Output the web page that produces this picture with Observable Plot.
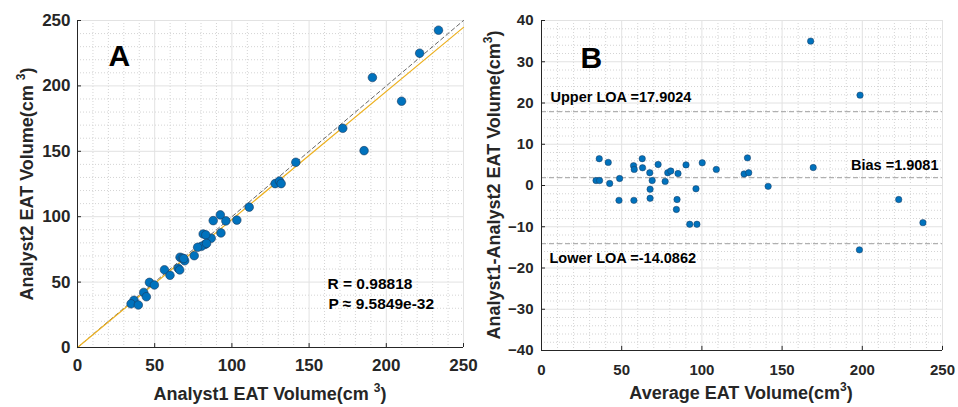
<!DOCTYPE html>
<html><head><meta charset="utf-8">
<script src="https://cdn.jsdelivr.net/npm/d3@7"></script>
<script src="https://cdn.jsdelivr.net/npm/@observablehq/plot@0.6"></script>
<style>
body{margin:0;background:#fff;}
#wrap{display:flex;width:958px;height:407px;overflow:hidden;}
#wrap svg{flex:none;}
</style></head><body><div id="wrap"></div>
<script>
// Panel A: Analyst1 vs Analyst2 volumes
const analyst1 = [233.8,221.6,191.0,209.9,171.8,185.6,141.4,128.0,130.8,131.9,111.2,92.5,87.9,96.1,103.2,92.9,86.6,81.4,83.1,82.6,80.3,77.8,75.6,66.4,67.9,69.4,65.2,66.2,56.3,59.9,46.6,49.8,42.9,44.6,36.6,34.7,39.4,68.8,83.6];
const analyst2 = [242.6,225.0,206.4,188.3,167.6,150.5,141.6,125.3,127.3,125.3,107.3,101.4,97.0,96.8,97.4,87.6,83.5,86.8,86.1,78.8,77.4,76.6,70.2,69.0,68.3,66.3,60.6,59.3,59.4,55.2,49.8,47.8,42.1,38.8,36.1,33.4,32.5,68.0,79.6];
const fitSlope = 0.979;
const fitIntercept = 0.0;
const corrR = "0.98818";
const pValue = "9.5849e-32";
const ticksA = [0,50,100,150,200,250];

// Panel B: Bland-Altman
const baAverage = [167.8,198.6,36.0,41.6,62.8,57.4,57.8,63.0,72.7,67.5,78.7,80.6,85.1,90.1,100.2,109.0,128.4,126.3,129.2,141.3,169.4,34.0,36.2,42.5,48.7,48.3,57.6,67.7,69.0,67.7,77.1,84.5,84.1,92.4,96.9,96.3,222.7,237.8,198.2];
const baDifference = [35.0,21.9,6.5,5.6,6.5,4.8,3.9,4.3,5.1,3.1,3.1,3.5,2.9,5.0,5.5,3.9,6.7,2.8,3.1,-0.2,4.35,1.2,1.2,0.5,1.7,-3.6,-3.6,-0.9,1.2,-3.1,1.0,-3.4,-5.8,-9.4,-9.4,-0.8,-3.4,-9.0,-15.6];
const biasValue = 1.9081;
const upperLOA = 17.9024;
const lowerLOA = -14.0862;
const ticksBx = [0,50,100,150,200,250];
const ticksBy = [-40,-30,-20,-10,0,10,20,30,40];

const font = "'Liberation Sans', Arial, Helvetica, sans-serif";
const ink = "#262626";
const dotFill = "#0072BD";
const dotStroke = "#1d3b5e";
const majorGrid = "#e2e2e2";
const minorGrid = "#d4d4d4";

function addTitle(svg, x, y, rotate, main, sup, supSpace) {
  const t = d3.select(svg).append("text")
    .attr("font-family", font).attr("font-weight", "bold").attr("font-size", 18)
    .attr("fill", ink).attr("text-anchor", "middle")
    .attr("transform", `translate(${x},${y})` + (rotate ? " rotate(-90)" : ""));
  t.append("tspan").text(main + (supSpace ? " " : ""));
  t.append("tspan").attr("font-size", 12).attr("dy", -8).text(sup);
  t.append("tspan").attr("dy", 8).text(")");
}

// ---------- Panel A ----------
const ptsA = analyst1.map((x, i) => ({x, y: analyst2[i]}));
const fitA = [0, 250].map(x => ({x, y: fitIntercept + fitSlope * x}));
const idA = [0, 250].map(v => ({x: v, y: v}));
const minorA = d3.range(0, 251, 10).filter(v => v % 50 !== 0);

const plotA = Plot.plot({
  width: 479, height: 407,
  marginLeft: 77, marginRight: 16, marginTop: 20, marginBottom: 60,
  style: {fontFamily: font, fontSize: "17px", fontWeight: "bold", color: ink, background: "#fff", overflow: "visible"},
  x: {domain: [0, 250], ticks: ticksA, tickSize: 0, tickPadding: 11, label: null},
  y: {domain: [0, 250], ticks: ticksA, tickSize: 0, tickPadding: 7, label: null},
  marks: [
    Plot.ruleX(minorA, {stroke: minorGrid, strokeDasharray: "1,2"}),
    Plot.ruleY(minorA, {stroke: minorGrid, strokeDasharray: "1,2"}),
    Plot.ruleX(ticksA.slice(1), {stroke: majorGrid}),
    Plot.ruleY(ticksA.slice(1), {stroke: majorGrid}),
    Plot.line(idA, {x: "x", y: "y", stroke: "#555", strokeWidth: 0.9, strokeDasharray: "4,3"}),
    Plot.line(fitA, {x: "x", y: "y", stroke: "#EDB120", strokeWidth: 1.2}),
    Plot.dot(ptsA, {x: "x", y: "y", r: 4.3, fill: dotFill, stroke: dotStroke, strokeWidth: 0.6}),
    Plot.ruleX(ticksA, {y1: 0, y2: 3, stroke: ink}),
    Plot.ruleY(ticksA, {x1: 0, x2: 2.6, stroke: ink}),
    Plot.ruleX([0], {stroke: ink, strokeWidth: 1}),
    Plot.ruleY([0], {stroke: ink, strokeWidth: 1}),
    Plot.text(["A"], {frameAnchor: "top-left", dx: 31, dy: 24, textAnchor: "start", fontSize: 30, fontWeight: "bold", fill: "#000"}),
    Plot.text([`R = ${corrR}`], {frameAnchor: "top-left", dx: 250, dy: 257, textAnchor: "start", fontSize: 15.5, fontWeight: "bold", fill: "#000"}),
    Plot.text([`P \u2248 ${pValue}`], {frameAnchor: "top-left", dx: 251, dy: 277, textAnchor: "start", fontSize: 15.5, fontWeight: "bold", fill: "#000"})
  ]
});
addTitle(plotA, 270, 400, false, "Analyst1 EAT Volume(cm", "3", true);
addTitle(plotA, 33, 184, true, "Analyst2 EAT Volume(cm", "3", true);

// ---------- Panel B ----------
const ptsB = baAverage.map((x, i) => ({x, y: baDifference[i]}));
const minorBx = d3.range(0, 251, 10).filter(v => v % 50 !== 0);
const minorBy = d3.range(-40, 41, 2).filter(v => v % 10 !== 0);

const plotB = Plot.plot({
  width: 479, height: 407,
  marginLeft: 62, marginRight: 16, marginTop: 20, marginBottom: 57,
  style: {fontFamily: font, fontSize: "15px", fontWeight: "bold", color: ink, background: "#fff", overflow: "visible"},
  x: {domain: [0, 250], ticks: ticksBx, tickSize: 0, tickPadding: 14, label: null},
  y: {domain: [-40, 40], ticks: ticksBy, tickSize: 0, tickPadding: 8, label: null},
  marks: [
    Plot.ruleX(minorBx, {stroke: minorGrid, strokeDasharray: "1,2"}),
    Plot.ruleY(minorBy, {stroke: minorGrid, strokeDasharray: "1,2"}),
    Plot.ruleX(ticksBx.slice(1), {stroke: majorGrid}),
    Plot.ruleY(ticksBy.slice(1), {stroke: majorGrid}),
    Plot.ruleY([upperLOA, biasValue, lowerLOA], {stroke: "#b0b0b0", strokeWidth: 1.1, strokeDasharray: "5,3"}),
    Plot.dot(ptsB, {x: "x", y: "y", r: 3.2, fill: dotFill, stroke: dotStroke, strokeWidth: 0.5}),
    Plot.ruleX(ticksBx, {y1: -40, y2: -39, stroke: ink}),
    Plot.ruleY(ticksBy, {x1: 0, x2: 2.5, stroke: ink}),
    Plot.ruleX([0], {stroke: ink, strokeWidth: 1}),
    Plot.ruleY([-40], {stroke: ink, strokeWidth: 1}),
    Plot.text(["B"], {frameAnchor: "top-left", dx: 39, dy: 26, textAnchor: "start", fontSize: 30, fontWeight: "bold", fill: "#000"}),
    Plot.text([upperLOA], {y: d => d, text: d => `Upper LOA =${d}`, frameAnchor: "left", dx: 9, dy: -14, textAnchor: "start", fontSize: 14.5, fontWeight: "bold", fill: "#000"}),
    Plot.text([biasValue], {y: d => d, text: d => `Bias =${d}`, frameAnchor: "right", dx: -4, dy: -12, textAnchor: "end", fontSize: 14.5, fontWeight: "bold", fill: "#000"}),
    Plot.text([lowerLOA], {y: d => d, text: d => `Lower LOA =${d}`, frameAnchor: "left", dx: 8, dy: 15, textAnchor: "start", fontSize: 14.5, fontWeight: "bold", fill: "#000"})
  ]
});
addTitle(plotB, 262, 399, false, "Average EAT Volume(cm", "3", false);
addTitle(plotB, 21, 185, true, "Analyst1-Analyst2 EAT Volume(cm", "3", false);

document.getElementById("wrap").append(plotA, plotB);
</script>
</body></html>
